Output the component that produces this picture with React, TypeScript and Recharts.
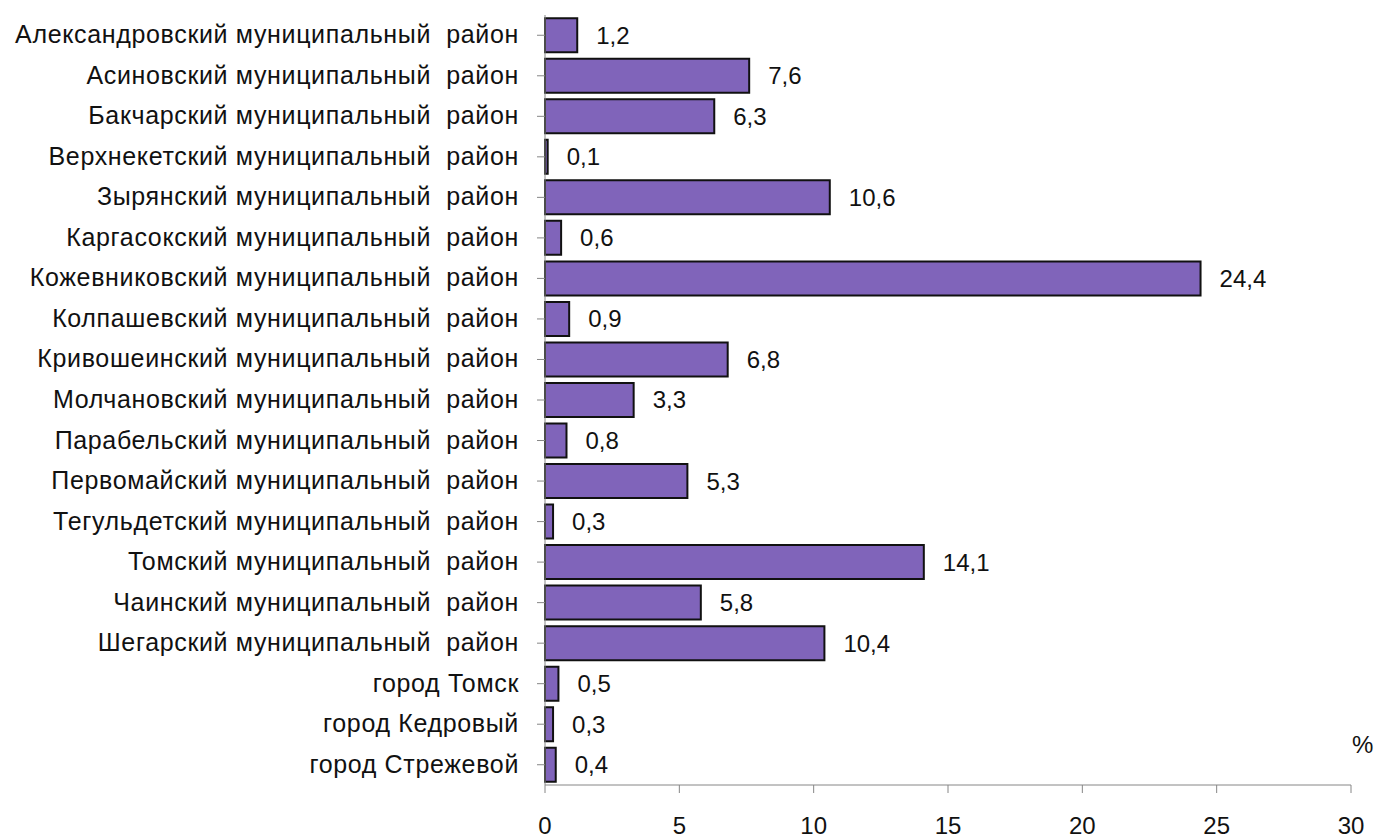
import React from "react";
import { BarChart, Bar, XAxis, YAxis, LabelList } from "recharts";

const districts = [
  "Александровский муниципальный  район",
  "Асиновский муниципальный  район",
  "Бакчарский муниципальный  район",
  "Верхнекетский муниципальный  район",
  "Зырянский муниципальный  район",
  "Каргасокский муниципальный  район",
  "Кожевниковский муниципальный  район",
  "Колпашевский муниципальный  район",
  "Кривошеинский муниципальный  район",
  "Молчановский муниципальный  район",
  "Парабельский муниципальный  район",
  "Первомайский муниципальный  район",
  "Тегульдетский муниципальный  район",
  "Томский муниципальный  район",
  "Чаинский муниципальный  район",
  "Шегарский муниципальный  район",
  "город Томск",
  "город Кедровый",
  "город Стрежевой",
];

const shares = [1.2, 7.6, 6.3, 0.1, 10.6, 0.6, 24.4, 0.9, 6.8, 3.3, 0.8, 5.3, 0.3, 14.1, 5.8, 10.4, 0.5, 0.3, 0.4];

const xTicks = [0, 5, 10, 15, 20, 25, 30];

const data = districts.map((name, i) => ({ name, value: shares[i] }));

const FONT = "'Liberation Sans', Arial, sans-serif";

function CategoryTick(props: any) {
  const { x, y, payload } = props;
  return (
    <text
      x={x - 16}
      y={y}
      dy={8}
      textAnchor="end"
      fill="#111"
      fontSize={25}
      letterSpacing={0.65}
      fontFamily={FONT}
      style={{ whiteSpace: "pre" }}
    >
      {payload.value}
    </text>
  );
}

export default function App() {
  return (
    <div style={{ position: "relative", width: 1377, height: 838 }}>
      <style>{"body{margin:0}"}</style>
      <BarChart
        width={1377}
        height={838}
        data={data}
        layout="vertical"
        barCategoryGap="8%"
        margin={{ top: 15, right: 26, left: 0, bottom: 8 }}
      >
        <XAxis
          type="number"
          domain={[0, 30]}
          ticks={xTicks}
          interval={0}
          stroke="#868686"
          tickSize={8}
          height={45}
          tick={{ fill: "#111", fontSize: 24, fontFamily: FONT, dy: 22 }}
        />
        <YAxis
          type="category"
          dataKey="name"
          width={545}
          interval={0}
          stroke="#868686"
          tickSize={8}
          tick={<CategoryTick />}
        />
        <Bar dataKey="value" fill="#8064BA" stroke="#111" strokeWidth={2} isAnimationActive={false}>
          <LabelList
            dataKey="value"
            position="right"
            offset={19}
            fill="#111"
            fontSize={24}
            fontFamily={FONT}
            formatter={(v: any) => String(v).replace(".", ",")}
          />
        </Bar>
      </BarChart>
      <div
        style={{
          position: "absolute",
          left: 1352,
          top: 731,
          fontSize: 24,
          fontFamily: FONT,
          color: "#111",
        }}
      >
        %
      </div>
    </div>
  );
}
